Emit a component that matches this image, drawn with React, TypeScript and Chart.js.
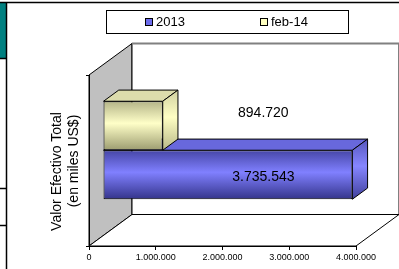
import React, { useEffect, useRef } from 'react';
import { Chart, registerables } from 'chart.js';

Chart.register(...registerables);

// ---- data ----
const categories = [''];
const seriesLabels = ['feb-14', '2013'];
const valuesFeb14 = [894720];
const values2013 = [3735543];
const xTickValues = [0, 1000000, 2000000, 3000000, 4000000];
const yTitleLines = ['Valor Efectivo Total', '(en miles US$)'];

// ---- styles ----
const FONT = '"Liberation Sans", Arial, sans-serif';
const DEPTH = { dx: 43, dy: -31.5 };
const BAR_FRONT = 0.326;
const BAR_BACK = 0.68;
const LABEL_DY = [-13, 2];

type Style = { legend: string; front: string[]; side: string[]; top: string };
const STYLES: Style[] = [
  { legend: '#ffffc0', front: ['#b4b488', '#ffffc8', '#9c9c70'], side: ['#d0d0a0', '#ffffc4', '#b8b888'], top: '#dcdcac' },
  { legend: '#6c6cec', front: ['#4646a6', '#8080ff', '#34348a'], side: ['#5656bc', '#8686ff', '#40409c'], top: '#6868dc' },
];

const fmt = (n: number) => String(Math.round(n)).replace(/\B(?=(\d{3})+(?!\d))/g, '.');

function poly(ctx: CanvasRenderingContext2D, pts: number[][], fill: any, stroke?: string, lw = 1) {
  ctx.beginPath();
  ctx.moveTo(pts[0][0], pts[0][1]);
  for (let i = 1; i < pts.length; i++) ctx.lineTo(pts[i][0], pts[i][1]);
  ctx.closePath();
  if (fill) {
    ctx.fillStyle = fill;
    ctx.fill();
  }
  if (stroke) {
    ctx.strokeStyle = stroke;
    ctx.lineWidth = lw;
    ctx.stroke();
  }
}

function seg(ctx: CanvasRenderingContext2D, x1: number, y1: number, x2: number, y2: number, color: string, lw = 1) {
  ctx.beginPath();
  ctx.moveTo(x1, y1);
  ctx.lineTo(x2, y2);
  ctx.strokeStyle = color;
  ctx.lineWidth = lw;
  ctx.stroke();
}

function grad(ctx: CanvasRenderingContext2D, y0: number, y1: number, stops: string[]) {
  const g = ctx.createLinearGradient(0, y0, 0, y1);
  g.addColorStop(0, stops[0]);
  g.addColorStop(0.45, stops[1]);
  g.addColorStop(1, stops[2]);
  return g;
}

const threeD = {
  id: 'threeD',
  beforeDraw(chart: any) {
    const { ctx, chartArea: a } = chart;
    const W = chart.width;
    const H = chart.height;
    const { dx, dy } = DEPTH;
    ctx.save();
    ctx.fillStyle = '#fff';
    ctx.fillRect(0, 0, W, H);

    // page frame decorations
    ctx.fillStyle = '#008080';
    ctx.fillRect(0, 3, 6, 55);
    seg(ctx, 0, 2.5, W, 2.5, '#000', 1.5);
    seg(ctx, 6.5, 2, 6.5, H, '#000', 1.5);
    seg(ctx, 0, 58.5, 6, 58.5, '#000', 1.5);
    seg(ctx, 0, 188.5, 6, 188.5, '#000', 1.5);
    seg(ctx, 0, 225.5, 6, 225.5, '#000', 1.5);

    // left wall
    poly(ctx, [[a.left, a.top], [a.left + dx, a.top + dy], [a.left + dx, a.bottom + dy], [a.left, a.bottom]], '#c0c0c0', '#000');
    // back wall
    poly(ctx, [[a.left + dx, a.top + dy], [a.right + dx, a.top + dy], [a.right + dx, a.bottom + dy], [a.left + dx, a.bottom + dy]], '#fff', '#000');
    seg(ctx, a.left + dx, a.top + dy, a.right + dx, a.top + dy, '#808080', 2);
    // floor
    poly(ctx, [[a.left, a.bottom], [a.right, a.bottom], [a.right + dx, a.bottom + dy], [a.left + dx, a.bottom + dy]], '#fff', '#000');

    // legend
    ctx.fillStyle = '#fff';
    ctx.fillRect(106.5, 10.5, 242, 23);
    ctx.strokeStyle = '#000';
    ctx.lineWidth = 1;
    ctx.strokeRect(106.5, 10.5, 242, 23);
    const legendX = [145, 260];
    ctx.font = `13px ${FONT}`;
    ctx.textBaseline = 'middle';
    ctx.textAlign = 'left';
    const order = [1, 0];
    order.forEach((di, k) => {
      const x = legendX[k];
      ctx.fillStyle = STYLES[di].legend;
      ctx.fillRect(x + 0.5, 18.5, 7, 7);
      ctx.strokeStyle = '#000';
      ctx.strokeRect(x + 0.5, 18.5, 7, 7);
      ctx.fillStyle = '#000';
      ctx.fillText(chart.data.datasets[di].label, x + 11, 22.5);
    });

    // y title
    ctx.font = `14px ${FONT}`;
    ctx.textAlign = 'center';
    ctx.textBaseline = 'middle';
    ctx.fillStyle = '#000';
    const tx = [a.left - 31.5, a.left - 15];
    const ty = [171.5, 161];
    yTitleLines.forEach((t, i) => {
      ctx.save();
      ctx.translate(tx[i], ty[i]);
      ctx.rotate(-Math.PI / 2);
      ctx.fillText(t, 0, 0);
      ctx.restore();
    });
    ctx.restore();
  },
  beforeDatasetDraw(chart: any, args: any) {
    const ctx = chart.ctx;
    const meta = args.meta;
    const st = STYLES[meta.index];
    ctx.save();
    ctx.translate(DEPTH.dx * BAR_FRONT, DEPTH.dy * BAR_FRONT);
    const bdx = DEPTH.dx * (BAR_BACK - BAR_FRONT);
    const bdy = DEPTH.dy * (BAR_BACK - BAR_FRONT);
    meta.data.forEach((el: any) => {
      const { x, y, base, height } = el.getProps(['x', 'y', 'base', 'height'], true);
      const top = y - height / 2;
      const bot = y + height / 2;
      // top face
      poly(ctx, [[base, top], [x, top], [x + bdx, top + bdy], [base + bdx, top + bdy]], st.top, '#000');
      // right face
      poly(ctx, [[x, top], [x + bdx, top + bdy], [x + bdx, bot + bdy], [x, bot]], grad(ctx, top + bdy, bot, st.side), '#000');
      el.options = { ...el.options, backgroundColor: grad(ctx, top, bot, st.front), borderColor: '#000' };
    });
  },
  afterDatasetDraw(chart: any) {
    chart.ctx.restore();
  },
  afterDatasetsDraw(chart: any) {
    const { ctx, chartArea: a } = chart;
    ctx.save();
    ctx.font = `14px ${FONT}`;
    ctx.textAlign = 'center';
    ctx.textBaseline = 'middle';
    ctx.fillStyle = '#000';
    chart.data.datasets.forEach((ds: any, i: number) => {
      const meta = chart.getDatasetMeta(i);
      meta.data.forEach((el: any, j: number) => {
        const lx = (a.left + a.right) / 2 + DEPTH.dx * 0.95;
        const ly = el.y + DEPTH.dy * BAR_FRONT + LABEL_DY[i];
        ctx.fillText(fmt(ds.data[j]), lx, ly);
      });
    });
    ctx.restore();
  },
};

export default function App() {
  const ref = useRef<HTMLCanvasElement>(null);
  useEffect(() => {
    document.body.style.margin = '0';
    const canvas = ref.current!;
    const chart = new Chart(canvas, {
      type: 'bar',
      data: {
        labels: categories,
        datasets: [
          { label: seriesLabels[0], data: valuesFeb14, backgroundColor: STYLES[0].legend, borderColor: '#000', borderWidth: 1 },
          { label: seriesLabels[1], data: values2013, backgroundColor: STYLES[1].legend, borderColor: '#000', borderWidth: 1 },
        ],
      },
      options: {
        indexAxis: 'y',
        animation: false,
        responsive: false,
        devicePixelRatio: 1,
        events: [],
        layout: { padding: { top: 75, left: 89, right: 43, bottom: 5 } },
        datasets: {
          bar: {
            barPercentage: 1,
            categoryPercentage: 0.573,
            borderSkipped: false,
            clip: false as any,
          },
        },
        plugins: {
          legend: { display: false },
          tooltip: { enabled: false },
          colors: { enabled: false },
        } as any,
        scales: {
          x: {
            min: 0,
            max: 4000000,
            afterBuildTicks: (s: any) => {
              s.ticks = xTickValues.map((v) => ({ value: v }));
            },
            afterFit: (s: any) => {
              s.height = 18;
            },
            ticks: {
              callback: (v: any) => fmt(Number(v)),
              font: { family: FONT, size: 9 },
              color: '#000',
              padding: 2,
              maxRotation: 0,
              autoSkip: false,
            },
            grid: { drawOnChartArea: false, drawTicks: true, tickLength: 4, color: '#000' },
            border: { display: true, color: '#000', width: 1 },
          },
          y: {
            afterFit: (s: any) => {
              s.width = 0;
            },
            ticks: { display: false },
            grid: { drawOnChartArea: false, drawTicks: true, tickLength: 3, color: '#000', offset: true },
            border: { display: true, color: '#000', width: 1 },
          },
        },
      },
      plugins: [threeD],
    });
    return () => chart.destroy();
  }, []);
  return <canvas ref={ref} width={399} height={269} style={{ display: 'block' }} />;
}
